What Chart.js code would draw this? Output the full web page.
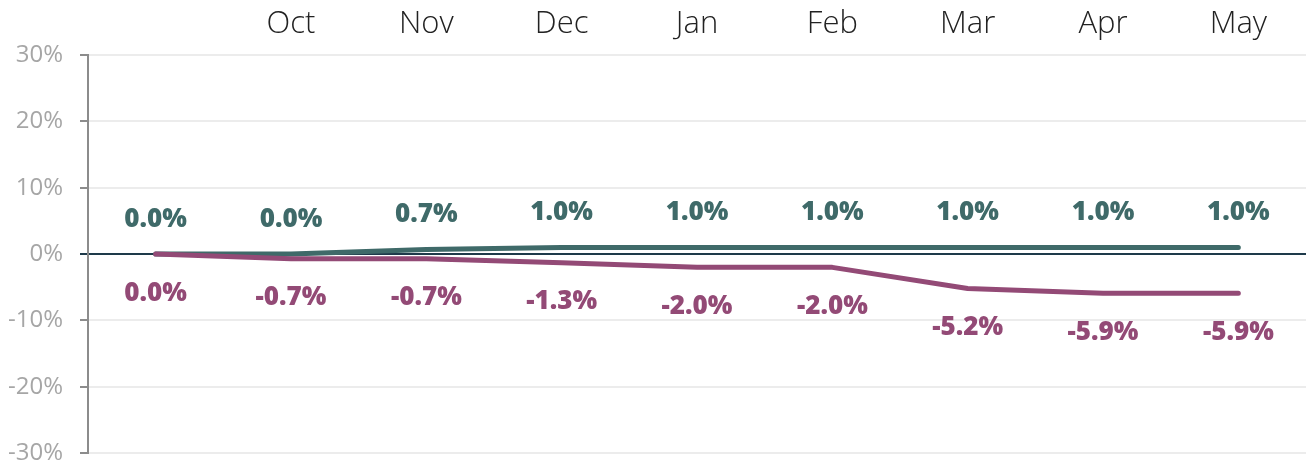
<!DOCTYPE html>
<html>
<head>
<meta charset="utf-8">
<script src="https://cdn.jsdelivr.net/npm/chart.js@4"></script>
<style>
  html, body { margin: 0; padding: 0; background: #fff; }
  #wrap { width: 1306px; height: 463px; }
</style>
</head>
<body>
<div id="wrap"><canvas id="chart"></canvas></div>
<script>
"use strict"

const months = ["", "Oct", "Nov", "Dec", "Jan", "Feb", "Mar", "Apr", "May"];
const upper = [0.0, 0.0, 0.7, 1.0, 1.0, 1.0, 1.0, 1.0, 1.0];
const lower = [0.0, -0.7, -0.7, -1.3, -2.0, -2.0, -5.2, -5.9, -5.9];
const yTicks = [-30, -20, -10, 0, 10, 20, 30];

const tealColor = '#3f6a69';
const plumColor = '#934a76';

// simple value labels, teal above the line and plum below it
const pointLabels = {
    id: 'pointLabels',
    afterDatasetsDraw(chart) {
        const ctx = chart.ctx;
        ctx.save();
        ctx.font = '800 26px "Open Sans"';
        ctx.textAlign = 'center';
        ctx.textBaseline = 'middle';
        chart.data.datasets.forEach((ds, i) => {
            const meta = chart.getDatasetMeta(i);
            const shift = ds.labelShift;
            ctx.fillStyle = ds.borderColor;
            meta.data.forEach((pt, j) => {
                ctx.fillText(ds.data[j].toFixed(1) + '%', pt.x, pt.y + shift);
            });
        });
        ctx.restore();
    }
};

const ctx = document.getElementById('chart').getContext('2d');
new Chart(ctx, {
    type: 'line',
    data: {
        labels: months,
        datasets: [
            {
                label: 'Lower',
                data: lower,
                borderColor: plumColor,
                borderWidth: 5,
                borderCapStyle: 'round',
                borderJoinStyle: 'round',
                pointRadius: 0,
                tension: 0,
                labelShift: 39
            },
            {
                label: 'Upper',
                data: upper,
                borderColor: tealColor,
                borderWidth: 5,
                borderCapStyle: 'round',
                borderJoinStyle: 'round',
                pointRadius: 0,
                tension: 0,
                labelShift: -35
            }
        ]
    },
    options: {
        responsive: true,
        maintainAspectRatio: false,
        animation: false,
        layout: { padding: { left: 0, right: 0, top: 2, bottom: 0 } },
        plugins: {
            legend: { display: false },
            tooltip: { enabled: false }
        },
        scales: {
            x: {
                position: 'top',
                offset: true,
                grid: { display: false },
                border: { display: false },
                ticks: {
                    color: '#222',
                    font: { family: 'Open Sans', size: 31, weight: 300 },
                    padding: 4,
                    maxRotation: 0
                }
            },
            y: {
                min: -30,
                max: 30,
                afterBuildTicks: axis => {
                    axis.ticks = yTicks.map(v => ({ value: v }));
                },
                afterFit: axis => {
                    axis.width = 88;
                    axis.paddingTop = 10;
                    axis.paddingBottom = 10;
                },
                border: { display: true, color: '#8c8c8c', width: 2 },
                grid: {
                    color: c => c.tick && c.tick.value === 0 ? '#1e3a4a' : '#ececec',
                    lineWidth: 2,
                    tickColor: c => c.tick && c.tick.value === 0 ? '#1e3a4a' : '#8c8c8c',
                    tickLength: 8
                },
                ticks: {
                    color: '#a6a6a6',
                    font: { family: 'Open Sans', size: 24 },
                    padding: 17,
                    callback: v => v + '%'
                }
            }
        }
    },
    plugins: [pointLabels]
});
</script>
</body>
</html>
